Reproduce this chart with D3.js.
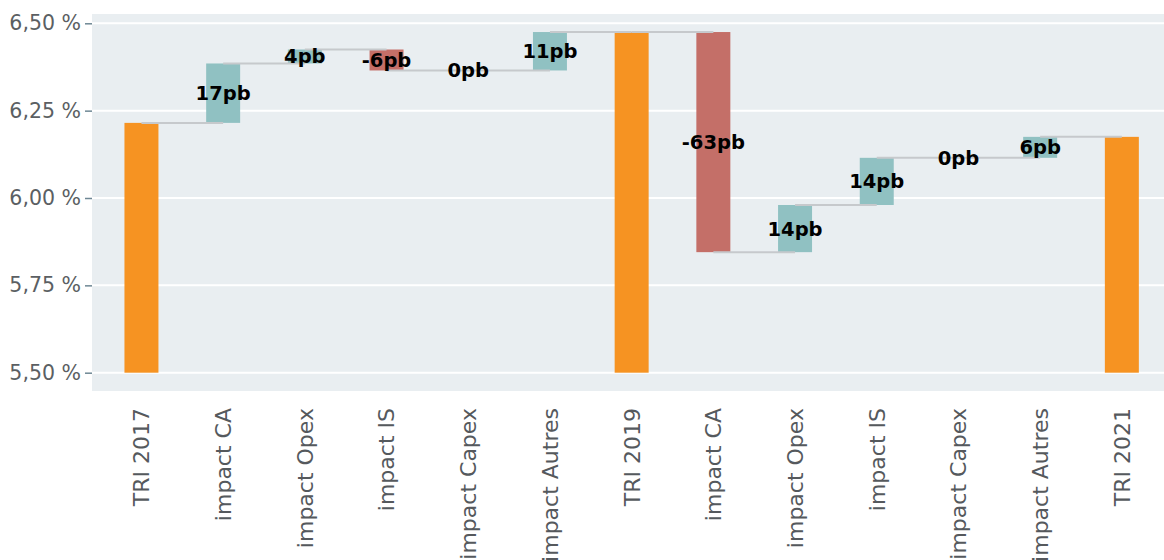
<!DOCTYPE html>
<html>
<head>
<meta charset="utf-8">
<script src="https://cdn.jsdelivr.net/npm/d3@7/dist/d3.min.js"></script>
<style>
  html, body { margin: 0; padding: 0; background: #ffffff; }
  svg { display: block; }
</style>
</head>
<body>
<svg id="chart" width="1164" height="560"></svg>
<script>
// Waterfall of the TRI (internal rate of return) between 2017, 2019 and 2021
const categories = [
  "TRI 2017", "impact CA", "impact Opex", "impact IS", "impact Capex", "impact Autres",
  "TRI 2019", "impact CA", "impact Opex", "impact IS", "impact Capex", "impact Autres",
  "TRI 2021"
];
// "total" steps carry a level in %, "delta" steps carry a move in basis points
const stepKinds = ["total", "delta", "delta", "delta", "delta", "delta",
                   "total", "delta", "delta", "delta", "delta", "delta", "total"];
const totalValues = { 0: 6.215, 6: 6.475, 12: 6.175 };
const deltaValuesPb = [null, 17, 4, -6, 0, 11, null, -63, 13.5, 13.5, 0, 6, null];
const yTicks = [5.5, 5.75, 6.0, 6.25, 6.5];

const colors = { total: "#f69322", up: "#90c1c2", down: "#c46f68" };
const FONT = "'DejaVu Sans', 'Open Sans', sans-serif";

// Build start / end levels for each step
const steps = [];
let level = 0;
categories.forEach((cat, i) => {
  if (stepKinds[i] === "total") {
    level = totalValues[i];
    steps.push({ i, cat, kind: "total", start: 5.5, end: level, value: level });
  } else {
    const d = deltaValuesPb[i];
    const start = level;
    level = +(level + d / 100).toFixed(6);
    steps.push({ i, cat, kind: d < 0 ? "down" : "up", start, end: level, value: d });
  }
});

const svg = d3.select("#chart");
const plot = { left: 92, right: 1164, top: 14, bottom: 391 };

const x = d3.scaleBand()
  .domain(d3.range(categories.length))
  .range([100.6, 1162.7])
  .paddingInner(0.584)
  .paddingOuter(0.292);

const y = d3.scaleLinear()
  .domain([5.5, 6.5])
  .range([372.7, 23.3]);

// plot background
svg.append("rect")
  .attr("x", plot.left).attr("y", plot.top)
  .attr("width", plot.right - plot.left).attr("height", plot.bottom - plot.top)
  .attr("fill", "#e9eef1");

// horizontal grid
svg.append("g").selectAll("line").data(yTicks).join("line")
  .attr("x1", plot.left).attr("x2", plot.right)
  .attr("y1", d => y(d)).attr("y2", d => y(d))
  .attr("stroke", "#ffffff").attr("stroke-width", 2);

// y axis
const fmtPct = v => d3.format(".2f")(v).replace(".", ",") + " %";
const yAxis = svg.append("g")
  .attr("transform", `translate(${plot.left},0)`)
  .call(d3.axisLeft(y).tickValues(yTicks).tickFormat(fmtPct).tickSize(7).tickPadding(4));
yAxis.select(".domain").remove();
yAxis.selectAll(".tick line").attr("stroke", "#6e8794").attr("stroke-width", 1.5);
yAxis.selectAll(".tick text")
  .attr("fill", "#5b5f63")
  .style("font-family", FONT)
  .style("font-weight", 400)
  .style("font-size", "20.5px");

// bars
svg.append("g").selectAll("rect").data(steps).join("rect")
  .attr("x", d => x(d.i))
  .attr("width", x.bandwidth())
  .attr("y", d => y(Math.max(d.start, d.end)))
  .attr("height", d => Math.abs(y(d.start) - y(d.end)))
  .attr("fill", d => colors[d.kind]);

// connectors from each bar's center to the next bar's center, at the running level
const links = steps.slice(0, -1).map((d, k) => ({ from: d.i, to: steps[k + 1].i, level: d.end }));
svg.append("g").selectAll("line").data(links).join("line")
  .attr("x1", d => x(d.from) + x.bandwidth() / 2)
  .attr("x2", d => x(d.to) + x.bandwidth() / 2)
  .attr("y1", d => y(d.level)).attr("y2", d => y(d.level))
  .attr("stroke", "#c6c9cc").attr("stroke-width", 2);

// value labels on the delta bars
svg.append("g").selectAll("text").data(steps.filter(d => d.kind !== "total")).join("text")
  .attr("x", d => x(d.i) + x.bandwidth() / 2)
  .attr("y", d => (y(d.start) + y(d.end)) / 2 + 1.5)
  .attr("text-anchor", "middle")
  .attr("dominant-baseline", "middle")
  .attr("fill", "#000000")
  .style("font-family", FONT)
  .style("font-weight", 700)
  .style("font-size", "19.5px")
  .text(d => Math.round(d.value) + "pb");

// x axis labels, rotated
const xAxis = svg.append("g")
  .attr("transform", `translate(0,${plot.bottom})`)
  .call(d3.axisBottom(x).tickFormat(i => categories[i]).tickSize(0).tickPadding(0));
xAxis.select(".domain").remove();
xAxis.selectAll(".tick text")
  .attr("transform", "rotate(-90)")
  .attr("x", -17).attr("y", 0).attr("dy", "0.36em")
  .attr("text-anchor", "end")
  .attr("fill", "#55595d")
  .style("font-family", FONT)
  .style("font-weight", 400)
  .style("font-size", "22px");
</script>
</body>
</html>
